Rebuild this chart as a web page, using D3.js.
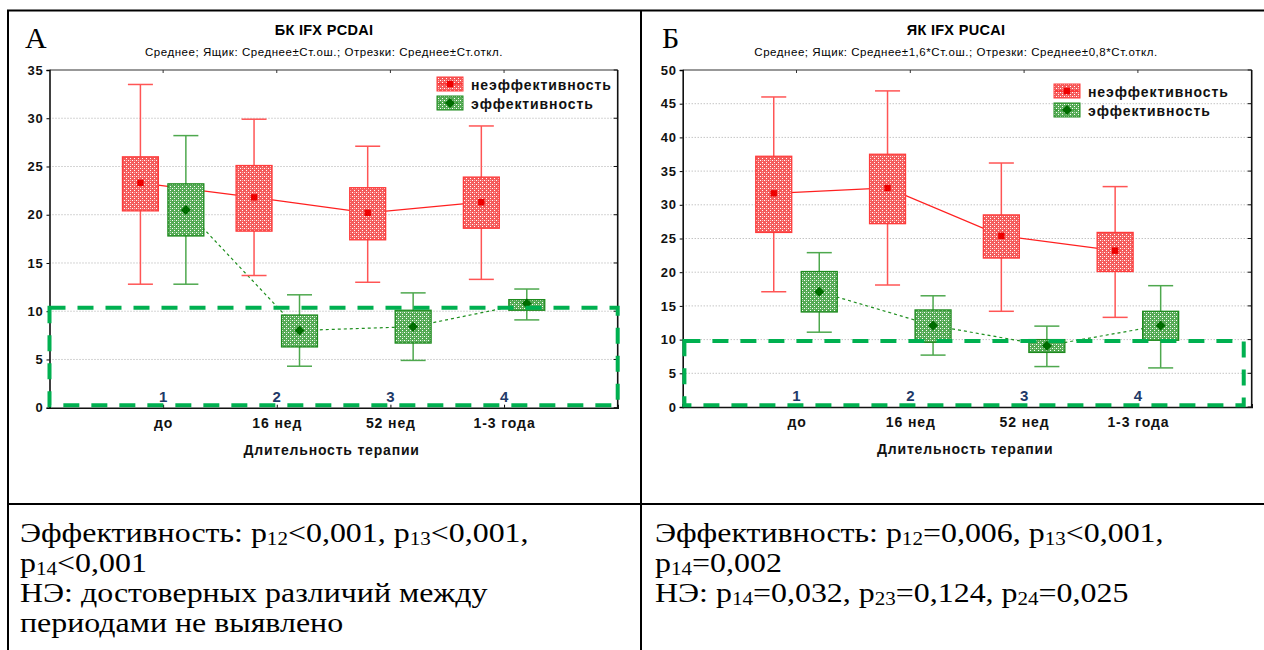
<!DOCTYPE html>
<html lang="ru">
<head>
<meta charset="UTF-8">
<script src="https://cdn.jsdelivr.net/npm/d3@7"></script>
<style>
  body { margin: 0; background: #fff; }
  svg { display: block; }
</style>
</head>
<body>
<div id="chart"></div>
<script>
// ---- data ----
const categories = ["до", "16 нед", "52 нед", "1-3 года"];
const groupNumbers = ["1", "2", "3", "4"];
const seriesNames = ["неэффективность", "эффективность"];

// А: БК IFX PCDAI (mean, box = mean±SE, whiskers = mean±SD)
const yTicksA = [0, 5, 10, 15, 20, 25, 30, 35];
const aIneffMean  = [23.3, 21.8, 20.2, 21.3];
const aIneffBoxLo = [20.4, 18.3, 17.4, 18.6];
const aIneffBoxHi = [26.0, 25.1, 22.8, 23.9];
const aIneffWhLo  = [12.8, 13.7, 13.0, 13.3];
const aIneffWhHi  = [33.5, 29.9, 27.1, 29.2];
const aEffMean  = [20.5, 8.0, 8.4, 10.8];
const aEffBoxLo = [17.8, 6.3, 6.7, 10.1];
const aEffBoxHi = [23.2, 9.6, 10.1, 11.2];
const aEffWhLo  = [12.8, 4.3, 4.9, 9.1];
const aEffWhHi  = [28.2, 11.7, 11.9, 12.3];

// Б: ЯК IFX PUCAI
const yTicksB = [0, 5, 10, 15, 20, 25, 30, 35, 40, 45, 50];
const bIneffMean  = [31.7, 32.5, 25.4, 23.2];
const bIneffBoxLo = [25.9, 27.2, 22.1, 20.1];
const bIneffBoxHi = [37.2, 37.5, 28.5, 25.9];
const bIneffWhLo  = [17.1, 18.1, 14.2, 13.3];
const bIneffWhHi  = [46.0, 46.9, 36.2, 32.7];
const bEffMean  = [17.1, 12.1, 9.1, 12.1];
const bEffBoxLo = [14.1, 9.6, 8.1, 9.9];
const bEffBoxHi = [20.1, 14.4, 10.0, 14.2];
const bEffWhLo  = [11.1, 7.7, 6.0, 5.8];
const bEffWhHi  = [22.9, 16.5, 12.0, 18.0];

// dashed green frame (target zone), in data units
const zoneA = { x: [0, 5], y: [0.25, 10.35] };
const zoneB = { x: [0.015, 4.93], y: [0.25, 9.8] };

// notes under the charts: [text, isSubscript]
const notesA = [
  [["Эффективность: p"], ["12", 1], ["<0,001, p"], ["13", 1], ["<0,001,"]],
  [["p"], ["14", 1], ["<0,001"]],
  [["НЭ: достоверных различий между"]],
  [["периодами не выявлено"]]
];
const notesB = [
  [["Эффективность: p"], ["12", 1], ["=0,006, p"], ["13", 1], ["<0,001,"]],
  [["p"], ["14", 1], ["=0,002"]],
  [["НЭ: p"], ["14", 1], ["=0,032, p"], ["23", 1], ["=0,124, p"], ["24", 1], ["=0,025"]]
];

function makeSeries(mean, lo, hi, wlo, whi) {
  return mean.map((m, i) => ({ i: i, mean: m, lo: lo[i], hi: hi[i], wlo: wlo[i], whi: whi[i] }));
}

const W = 1264, H = 650;
const sans = "'Liberation Sans', Arial, sans-serif";
const serif = "'Liberation Serif', 'Times New Roman', serif";

const svg = d3.select("#chart").append("svg")
  .attr("width", W).attr("height", H);
svg.append("rect").attr("width", W).attr("height", H).attr("fill", "#fff");

// fill patterns for the boxes
const defs = svg.append("defs");
function pattern(id, base) {
  const p = defs.append("pattern").attr("id", id)
    .attr("width", 4).attr("height", 4).attr("patternUnits", "userSpaceOnUse");
  p.append("rect").attr("width", 4).attr("height", 4).attr("fill", base);
  p.append("rect").attr("x", 0).attr("y", 0).attr("width", 1).attr("height", 1).attr("fill", "#fff");
  p.append("rect").attr("x", 2).attr("y", 2).attr("width", 1).attr("height", 1).attr("fill", "#fff");
  p.append("rect").attr("x", 2).attr("y", 0).attr("width", 1).attr("height", 1).attr("fill", "#ffffff").attr("opacity", 0.5);
}
pattern("patRed", "#f45c5c");
pattern("patGreen", "#55aa55");

const styles = [
  { fill: "url(#patRed)", box: "#ff3b3b", whisk: "#ff5555", line: "#ff2020", dash: null, marker: "square", mfill: "#ee0000", off: -0.2 },
  { fill: "url(#patGreen)", box: "#1d8a1d", whisk: "#4ea84e", line: "#1f8f1f", dash: "3,3", marker: "diamond", mfill: "#006c00", off: 0.2 }
];

const panels = [
  {
    letter: "А", letterX: 25, cx: 324,
    title: "БК IFX PCDAI",
    subtitle: "Среднее; Ящик: Среднее±Ст.ош.; Отрезки: Среднее±Ст.откл.",
    x0: 49.5, x1: 617.7, yBot: 407.7, yTop: 70, yMax: 35, ticks: yTicksA,
    series: [makeSeries(aIneffMean, aIneffBoxLo, aIneffBoxHi, aIneffWhLo, aIneffWhHi),
             makeSeries(aEffMean, aEffBoxLo, aEffBoxHi, aEffWhLo, aEffWhHi)],
    legend: { x: 437, y: 77 }, zone: zoneA, notes: notesA, notesX: 20
  },
  {
    letter: "Б", letterX: 662, cx: 956,
    title: "ЯК IFX PUCAI",
    subtitle: "Среднее; Ящик: Среднее±1,6*Ст.ош.; Отрезки: Среднее±0,8*Ст.откл.",
    x0: 682.7, x1: 1251.7, yBot: 407, yTop: 70, yMax: 50, ticks: yTicksB,
    series: [makeSeries(bIneffMean, bIneffBoxLo, bIneffBoxHi, bIneffWhLo, bIneffWhHi),
             makeSeries(bEffMean, bEffBoxLo, bEffBoxHi, bEffWhLo, bEffWhHi)],
    legend: { x: 1054, y: 84 }, zone: zoneB, notes: notesB, notesX: 655
  }
];

function drawMarker(g, type, cx, cy, fill) {
  if (type === "square") {
    g.append("rect").attr("x", cx - 3.2).attr("y", cy - 3.2)
      .attr("width", 6.4).attr("height", 6.4).attr("fill", fill);
  } else {
    g.append("path")
      .attr("d", `M${cx},${cy - 5}L${cx + 5},${cy}L${cx},${cy + 5}L${cx - 5},${cy}Z`)
      .attr("fill", fill);
  }
}

panels.forEach(p => {
  const g = svg.append("g");
  const x = d3.scaleLinear().domain([0, 5]).range([p.x0, p.x1]);
  const y = d3.scaleLinear().domain([0, p.yMax]).range([p.yBot, p.yTop]);

  // panel letter, title, subtitle
  g.append("text").attr("x", p.letterX).attr("y", 48)
    .attr("font-family", serif).attr("font-size", 30).text(p.letter);
  g.append("text").attr("x", p.cx).attr("y", 35).attr("text-anchor", "middle")
    .attr("font-family", sans).attr("font-weight", "bold").attr("font-size", 14.5)
    .attr("letter-spacing", 0.3).text(p.title);
  g.append("text").attr("x", p.cx).attr("y", 56).attr("text-anchor", "middle")
    .attr("font-family", sans).attr("font-size", 11.5).attr("letter-spacing", 0.55).text(p.subtitle);

  // grid
  g.append("g").selectAll("line").data(p.ticks.filter(t => t > 0 && t < p.yMax)).join("line")
    .attr("x1", p.x0).attr("x2", p.x1).attr("y1", d => y(d)).attr("y2", d => y(d))
    .attr("stroke", "#aaa").attr("stroke-width", 1).attr("stroke-dasharray", "1,2");

  // frame top/right with inward ticks
  g.append("line").attr("x1", p.x0).attr("x2", p.x1).attr("y1", p.yTop).attr("y2", p.yTop)
    .attr("stroke", "#333").attr("stroke-width", 1.2);
  g.append("g").selectAll("line").data(categories).join("line")
    .attr("x1", (d, i) => x(i + 1)).attr("x2", (d, i) => x(i + 1))
    .attr("y1", p.yTop).attr("y2", p.yTop + 3).attr("stroke", "#333");
  g.append("line").attr("x1", p.x1).attr("x2", p.x1).attr("y1", p.yTop).attr("y2", p.yBot)
    .attr("stroke", "#111").attr("stroke-width", 1.6);
  g.append("g").selectAll("line").data(p.ticks).join("line")
    .attr("x1", p.x1 - 4).attr("x2", p.x1).attr("y1", d => y(d)).attr("y2", d => y(d))
    .attr("stroke", "#111");

  // left axis
  const ya = g.append("g").attr("transform", `translate(${p.x0},0)`)
    .call(d3.axisLeft(y).tickValues(p.ticks).tickSize(3).tickPadding(3).tickFormat(d3.format("d")));
  ya.select(".domain").attr("stroke", "#111").attr("stroke-width", 1.6);
  ya.selectAll("text").attr("font-family", sans).attr("font-weight", "bold")
    .attr("font-size", 13).attr("letter-spacing", 0.8).attr("fill", "#111");

  // bottom axis
  const xa = g.append("g").attr("transform", `translate(0,${p.yBot})`)
    .call(d3.axisBottom(x).tickValues([1, 2, 3, 4]).tickSize(-3).tickPadding(10)
      .tickFormat(d => categories[d - 1]));
  xa.select(".domain").attr("stroke", "#111").attr("stroke-width", 1.6);
  xa.selectAll("text").attr("font-family", sans).attr("font-weight", "bold")
    .attr("font-size", 14).attr("letter-spacing", 0.9).attr("fill", "#111");

  g.append("text").attr("x", (p.x0 + p.x1) / 2 - 2).attr("y", p.yBot + 47)
    .attr("text-anchor", "middle").attr("font-family", sans).attr("font-weight", "bold")
    .attr("font-size", 14).attr("letter-spacing", 0.8).attr("fill", "#111").text("Длительность терапии");

  // mean lines
  p.series.forEach((s, k) => {
    const st = styles[k];
    g.append("path").datum(s)
      .attr("d", d3.line().x(d => x(d.i + 1 + st.off)).y(d => y(d.mean)))
      .attr("fill", "none").attr("stroke", st.line).attr("stroke-width", 1.2)
      .attr("stroke-dasharray", st.dash);
  });

  // whiskers and boxes
  p.series.forEach((s, k) => {
    const st = styles[k];
    s.forEach(d => {
      const cx = x(d.i + 1 + st.off);
      const cap = x(0.11) - x(0);
      const half = x(0.158) - x(0);
      g.append("line").attr("x1", cx).attr("x2", cx).attr("y1", y(d.whi)).attr("y2", y(d.wlo))
        .attr("stroke", st.whisk).attr("stroke-width", 1.5);
      [d.whi, d.wlo].forEach(v => g.append("line")
        .attr("x1", cx - cap).attr("x2", cx + cap).attr("y1", y(v)).attr("y2", y(v))
        .attr("stroke", st.whisk).attr("stroke-width", 1.5));
      g.append("rect").attr("x", cx - half).attr("width", 2 * half)
        .attr("y", y(d.hi)).attr("height", y(d.lo) - y(d.hi))
        .attr("fill", st.fill).attr("stroke", st.box).attr("stroke-width", 1.3);
    });
  });

  // markers
  p.series.forEach((s, k) => {
    const st = styles[k];
    s.forEach(d => drawMarker(g, st.marker, x(d.i + 1 + st.off), y(d.mean), st.mfill));
  });

  // dashed zone
  g.append("rect")
    .attr("x", x(p.zone.x[0])).attr("width", x(p.zone.x[1]) - x(p.zone.x[0]))
    .attr("y", y(p.zone.y[1])).attr("height", y(p.zone.y[0]) - y(p.zone.y[1]))
    .attr("fill", "none").attr("stroke", "#00b050").attr("stroke-width", 4)
    .attr("stroke-dasharray", "16,12");

  // group numbers
  g.append("g").selectAll("text").data(groupNumbers).join("text")
    .attr("x", (d, i) => x(i + 1)).attr("y", p.yBot - 6).attr("text-anchor", "middle")
    .attr("font-family", sans).attr("font-weight", "bold").attr("font-size", 15)
    .attr("fill", "#1f3a68").text(d => d);

  // legend
  seriesNames.forEach((name, k) => {
    const st = styles[k];
    const lx = p.legend.x, ly = p.legend.y + k * 19;
    g.append("rect").attr("x", lx).attr("y", ly).attr("width", 26).attr("height", 14)
      .attr("fill", st.fill).attr("stroke", st.box).attr("stroke-width", 1);
    g.append("line").attr("x1", lx + 1).attr("x2", lx + 25).attr("y1", ly + 7).attr("y2", ly + 7)
      .attr("stroke", st.line).attr("stroke-width", 1.2).attr("stroke-dasharray", st.dash);
    drawMarker(g, st.marker, lx + 13, ly + 7, st.mfill);
    g.append("text").attr("x", lx + 34).attr("y", ly + 12.5)
      .attr("font-family", sans).attr("font-weight", "bold").attr("font-size", 14)
      .attr("letter-spacing", 0.9).attr("fill", "#111").text(name);
  });

  // notes (the source text is slightly wide, so stretch it horizontally)
  p.notes.forEach((line, li) => {
    const t = svg.append("text")
      .attr("transform", `translate(${p.notesX},${542 + li * 30}) scale(1.14,1)`)
      .attr("font-family", serif).attr("font-size", 28).attr("fill", "#000");
    let prevSub = false;
    line.forEach(seg => {
      const sub = !!seg[1];
      const ts = t.append("tspan").text(seg[0]);
      if (sub) ts.attr("font-size", 18.5).attr("dy", prevSub ? 0 : 3);
      else if (prevSub) ts.attr("dy", -3);
      prevSub = sub;
    });
  });
});

// table borders
const borders = svg.append("g").attr("stroke", "#000").attr("stroke-width", 2);
borders.append("line").attr("x1", 7).attr("x2", W).attr("y1", 10.5).attr("y2", 10.5);
borders.append("line").attr("x1", 8).attr("x2", 8).attr("y1", 10).attr("y2", H);
borders.append("line").attr("x1", 641).attr("x2", 641).attr("y1", 10).attr("y2", H);
borders.append("line").attr("x1", 7).attr("x2", W).attr("y1", 504).attr("y2", 504);
</script>
</body>
</html>
